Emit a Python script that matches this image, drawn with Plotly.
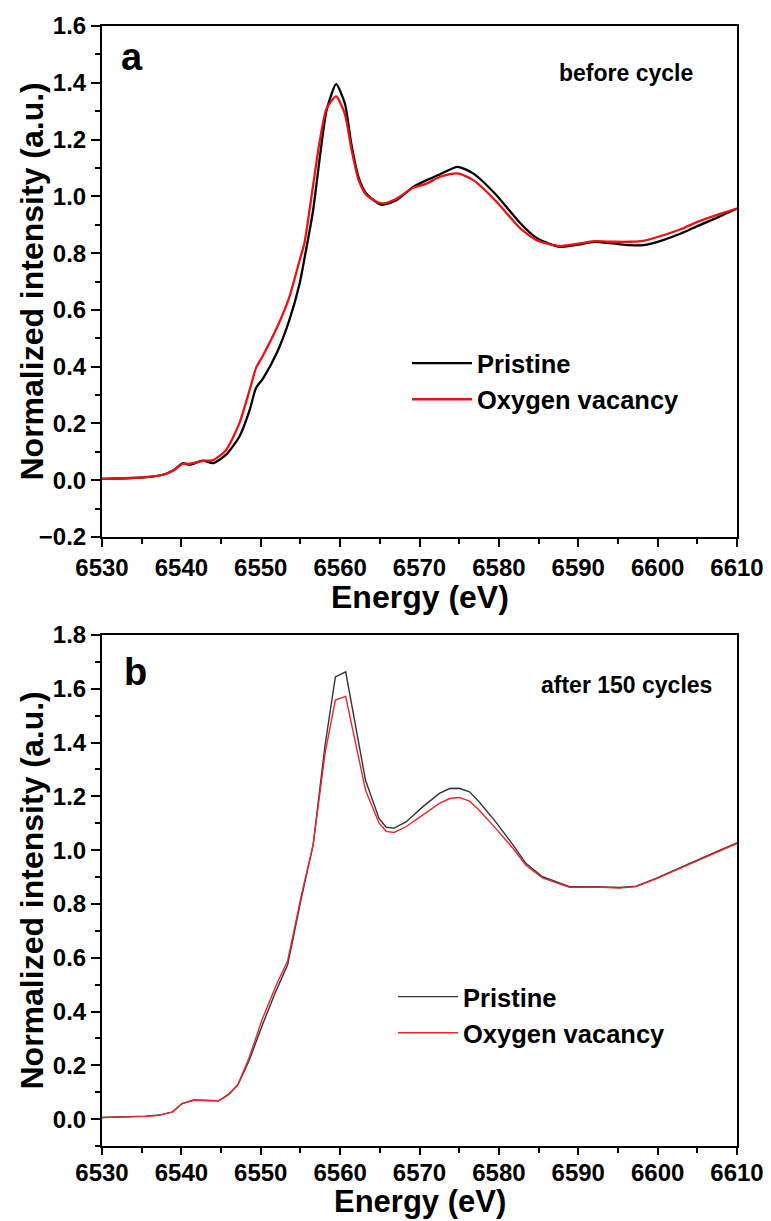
import plotly.graph_objects as go

# ---------------- data: panel a (before cycle) ----------------
energy_a = [6530, 6533, 6536, 6538, 6539, 6540.2, 6541, 6542.7, 6544, 6545.6, 6547.3, 6548.6,
            6549.4, 6550.3, 6552, 6553.6, 6554.9, 6555.5, 6556.6, 6557.4, 6558.3, 6559.5,
            6560.6, 6561.4, 6562.3, 6563.3, 6565.2, 6567, 6569.2, 6570.9, 6572.6, 6574.8,
            6576.8, 6579.7, 6582.7, 6584.8, 6587.7, 6590, 6592, 6594.4, 6596.5, 6598.2,
            6600.7, 6603, 6605, 6607.5, 6610]
pristine_a = [0.005, 0.007, 0.012, 0.022, 0.035, 0.060, 0.054, 0.069, 0.060, 0.089, 0.153, 0.247,
              0.325, 0.359, 0.447, 0.564, 0.693, 0.780, 0.951, 1.128, 1.304, 1.395,
              1.327, 1.186, 1.069, 1.010, 0.970, 0.985, 1.033, 1.057, 1.078, 1.104,
              1.080, 1.004, 0.905, 0.852, 0.822, 0.830, 0.840, 0.834, 0.828, 0.828,
              0.846, 0.870, 0.895, 0.925, 0.957]
vacancy_a = [0.005, 0.007, 0.012, 0.022, 0.035, 0.058, 0.058, 0.068, 0.071, 0.105, 0.200, 0.318,
             0.395, 0.440, 0.535, 0.645, 0.775, 0.835, 1.040, 1.190, 1.310, 1.352,
             1.290, 1.170, 1.060, 1.005, 0.975, 0.990, 1.030, 1.045, 1.069, 1.081,
             1.057, 0.981, 0.887, 0.845, 0.825, 0.833, 0.842, 0.840, 0.840, 0.843,
             0.863, 0.885, 0.910, 0.935, 0.957]

# ---------------- data: panel b (after 150 cycles) ----------------
energy_b = [6530, 6532, 6534, 6535.5, 6537.2, 6538.9, 6540.1, 6541.6, 6543.2, 6544.7, 6546,
            6547.1, 6548.5, 6550.2, 6551.9, 6553.4, 6555.1, 6556.6, 6558.1, 6559.4, 6560.7,
            6563.2, 6564.9, 6565.8, 6566.8, 6568.3, 6570.4, 6572.5, 6573.8, 6575, 6576.3,
            6577.5, 6579.6, 6581.8, 6583.4, 6585.5, 6588.9, 6592.2, 6595.2, 6597.3, 6599.8,
            6604, 6606.9, 6610]
pristine_b = [0.006, 0.007, 0.009, 0.011, 0.015, 0.027, 0.058, 0.071, 0.069, 0.068, 0.093,
              0.126, 0.215, 0.350, 0.475, 0.575, 0.820, 1.020, 1.390, 1.644, 1.663,
              1.260, 1.118, 1.085, 1.082, 1.105, 1.161, 1.211, 1.229, 1.230, 1.217,
              1.180, 1.105, 1.019, 0.951, 0.901, 0.864, 0.864, 0.861, 0.866, 0.895,
              0.951, 0.988, 1.027]
vacancy_b = [0.006, 0.007, 0.008, 0.010, 0.014, 0.027, 0.058, 0.071, 0.069, 0.068, 0.093,
             0.128, 0.225, 0.372, 0.495, 0.590, 0.830, 1.020, 1.360, 1.558, 1.572,
             1.223, 1.101, 1.070, 1.066, 1.087, 1.130, 1.174, 1.192, 1.196, 1.182,
             1.149, 1.081, 1.006, 0.944, 0.897, 0.862, 0.863, 0.859, 0.865, 0.893,
             0.948, 0.984, 1.025]

series_names = ["Pristine", "Oxygen vacancy"]
x_ticks = [6530, 6540, 6550, 6560, 6570, 6580, 6590, 6600, 6610]

W, H = 771, 1221
FONT = "Liberation Sans, Arial, sans-serif"

fig = go.Figure()

fig.add_trace(go.Scatter(x=energy_a, y=pristine_a, name=series_names[0], mode="lines",
                         line=dict(color="#000000", width=2.3, shape="spline", smoothing=0.6),
                         xaxis="x", yaxis="y", legend="legend"))
fig.add_trace(go.Scatter(x=energy_a, y=vacancy_a, name=series_names[1], mode="lines",
                         line=dict(color="#ee1111", width=2.3, shape="spline", smoothing=0.6),
                         xaxis="x", yaxis="y", legend="legend"))
fig.add_trace(go.Scatter(x=energy_b, y=pristine_b, name=series_names[0], mode="lines",
                         line=dict(color="#333333", width=1.4),
                         xaxis="x2", yaxis="y2", legend="legend2"))
fig.add_trace(go.Scatter(x=energy_b, y=vacancy_b, name=series_names[1], mode="lines",
                         line=dict(color="#e8262b", width=1.4),
                         xaxis="x2", yaxis="y2", legend="legend2"))

xdom = [102 / W, 737 / W]
ydom_a = [1 - 537 / H, 1 - 26 / H]
ydom_b = [1 - 1146 / H, 1 - 635 / H]

tickfont = dict(family=FONT, size=24, color="black", weight="bold")


def xaxis(domain_anchor, ticklen=8, standoff=0):
    return dict(domain=xdom, anchor=domain_anchor, range=[6530, 6610], tickvals=x_ticks,
                ticks="outside", ticklen=ticklen, tickwidth=2, tickcolor="black",
                ticklabelstandoff=standoff,
                minor=dict(dtick=5, tick0=6530, ticks="outside", ticklen=5, tickwidth=2,
                           tickcolor="black"),
                showline=True, linewidth=2, linecolor="black", mirror=True,
                showgrid=False, zeroline=False, tickfont=tickfont,
                automargin=False)


def yaxis(domain, rng, anchor):
    return dict(domain=domain, anchor=anchor, range=rng, dtick=0.2, tick0=0, tickformat=".1f",
                ticks="outside", ticklen=9, tickwidth=2, tickcolor="black",
                minor=dict(dtick=0.1, tick0=0, ticks="outside", ticklen=5, tickwidth=2,
                           tickcolor="black"),
                showline=True, linewidth=2, linecolor="black", mirror=True,
                showgrid=False, zeroline=False, tickfont=tickfont,
                automargin=False)


legend_common = dict(font=dict(family=FONT, size=25.5, color="black", weight="bold"),
                     bgcolor="rgba(0,0,0,0)", borderwidth=0, xanchor="left",
                     yanchor="middle", itemwidth=60, tracegroupgap=0)

ytitle = "Normalized intensity (a.u.)"
xtitle = "Energy (eV)"
ann_font_title = dict(family=FONT, size=32, color="black", weight="bold")

fig.update_layout(
    width=W, height=H,
    margin=dict(l=0, r=0, t=0, b=0),
    paper_bgcolor="white", plot_bgcolor="white",
    font=dict(family=FONT, color="black"),
    xaxis=xaxis("y"),
    yaxis=yaxis(ydom_a, [-0.2, 1.6], "x"),
    xaxis2=xaxis("y2", ticklen=7, standoff=-3),
    yaxis2=yaxis(ydom_b, [-0.1, 1.8], "x2"),
    legend=dict(x=407 / W, y=1 - 381.5 / H, **legend_common),
    legend2=dict(x=393 / W, y=1 - 1015 / H, **legend_common),
    showlegend=True,
    annotations=[
        dict(text=ytitle, textangle=-90, x=31 / W, y=1 - 281.5 / H, xref="paper", yref="paper",
             xanchor="center", yanchor="middle", showarrow=False, font=ann_font_title),
        dict(text=ytitle, textangle=-90, x=31 / W, y=1 - 890.5 / H, xref="paper", yref="paper",
             xanchor="center", yanchor="middle", showarrow=False, font=ann_font_title),
        dict(text=xtitle, x=420 / W, y=1 - 617 / H, xref="paper", yref="paper",
             xanchor="center", yanchor="bottom", showarrow=False, font=ann_font_title),
        dict(text=xtitle, x=420 / W, y=0, xref="paper", yref="paper",
             xanchor="center", yanchor="bottom", showarrow=False,
             font=dict(family=FONT, size=31, color="black", weight="bold")),
        dict(text="a", x=132 / W, y=1 - 57.5 / H, xref="paper", yref="paper",
             xanchor="center", yanchor="middle", showarrow=False,
             font=dict(family=FONT, size=38, color="black", weight="bold")),
        dict(text="b", x=135.5 / W, y=1 - 671.5 / H, xref="paper", yref="paper",
             xanchor="center", yanchor="middle", showarrow=False,
             font=dict(family=FONT, size=38, color="black", weight="bold")),
        dict(text="before cycle", x=626 / W, y=1 - 73 / H, xref="paper", yref="paper",
             xanchor="center", yanchor="middle", showarrow=False,
             font=dict(family=FONT, size=23, color="black", weight="bold")),
        dict(text="after 150 cycles", x=626 / W, y=1 - 685 / H, xref="paper", yref="paper",
             xanchor="center", yanchor="middle", showarrow=False,
             font=dict(family=FONT, size=23, color="black", weight="bold")),
    ],
)

fig.write_html("out.html")
